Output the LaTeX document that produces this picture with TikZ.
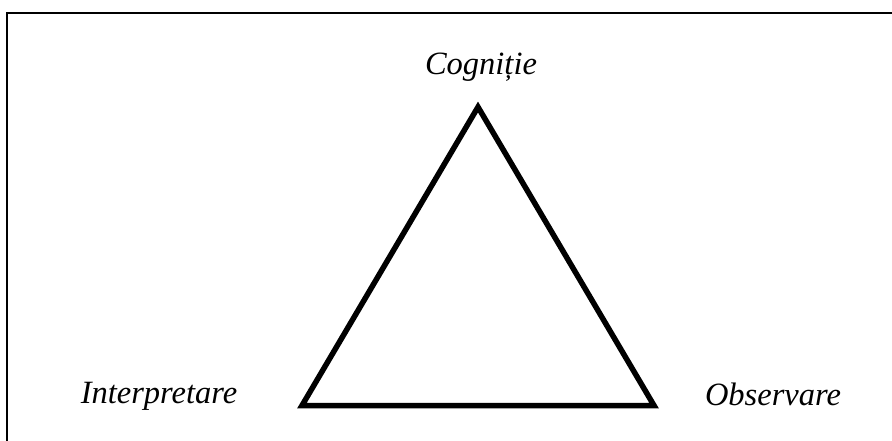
\documentclass[tikz,border=0pt]{standalone}
\usepackage{fontspec}
\setmainfont{Liberation Serif}
\tikzset{
  lbl/.style={anchor=base, font=\fontsize{32.5}{38}\selectfont\itshape},
}
\begin{document}
\begin{tikzpicture}[x=1pt, y=-1pt]

  \useasboundingbox (0,0) rectangle (892,441);
  \clip (0,0) rectangle (892,441);

  % --- cornice ---
  \draw[line width=2pt] (7,13) rectangle (905,455);

  % --- vertici ---
  \coordinate (top) at (478,107);
  \coordinate (bl)  at (302,405.5);
  \coordinate (br)  at (654,405.5);

  % --- triangolo ---
  \draw[line width=5.5pt] (top) -- (br) -- (bl) -- cycle;

  % --- etichette ---
  \node[lbl] (cog) at (481,75)  {Cogniție};
  \node[lbl] (int) at (159,403) {Interpretare};
  \node[lbl] (obs) at (773,405) {Observare};

\end{tikzpicture}
\end{document}
